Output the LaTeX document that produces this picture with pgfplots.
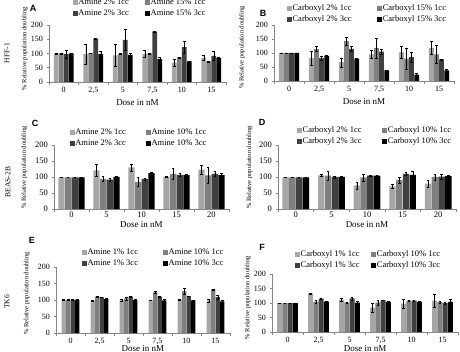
\documentclass[border=0pt]{standalone}
\usepackage{pgfplots}
\pgfplotsset{compat=1.18}
\usepackage{fontspec}
\setmainfont{Liberation Serif}
\newfontfamily\labfont{Liberation Sans}
\definecolor{c1}{HTML}{A6A6A6}
\definecolor{c2}{HTML}{7F7F7F}
\definecolor{c3}{HTML}{404040}
\definecolor{c4}{HTML}{000000}
\definecolor{axgray}{HTML}{868686}
\newcommand\tfont{\fontsize{8}{9}\selectfont}
\newcommand\tbfont{\fontsize{8.5}{9.5}\selectfont}
\newcommand\lfont{\fontsize{8.5}{9.5}\selectfont}
\newcommand\lb[2]{\makebox[#1][l]{#2}}
\pgfplotsset{
  ser/.style n args={2}{fill=#1, draw=none, bar shift=#2,
    legend image code/.code={\fill[fill=#1] (0pt,-2.3pt) rectangle (4.6pt,2.3pt);}},
  panel/.style={
    scale only axis, anchor=south west, ybar, enlargelimits=false,
    ymin=0, ymax=200, ytick={0,50,100,150,200},
    axis lines*=left,
    axis line style={draw=axgray, line width=0.6pt, -},
    tick align=outside, major tick length=2.5pt, minor tick length=3pt,
    every tick/.style={draw=axgray, line width=0.6pt},
    major x tick style={draw=none},
    /pgf/number format/assume math mode=true,
    tick label style={font=\tfont},
    x tick label style={yshift=1pt},
    ylabel={\% Relative population doubling},
    xlabel={Dose in nM},
    legend columns=2, legend cell align=left,
    error bars/y dir=both, error bars/y explicit,
    error bars/error bar style={line width=0.4pt, black},
    error bars/error mark options={rotate=90, mark size=1.3pt, line width=0.4pt, black},
  },
  six/.style={xmin=-0.5, xmax=5.5, xtick={0,1,2,3,4,5}, xticklabels={0,{2,5},5,{7,5},10,15},
    minor xtick={-0.5,0.5,1.5,2.5,3.5,4.5,5.5}},
  five/.style={xmin=-0.5, xmax=4.5, xtick={0,1,2,3,4}, xticklabels={0,5,10,15,20},
    minor xtick={-0.5,0.5,1.5,2.5,3.5,4.5}, tick label style={font=\tbfont},
    x tick label style={yshift=2pt}},
  leg/.style 2 args={legend style={draw=none, fill=none, inner sep=0pt, font=\lfont,
    at={(axis description cs:#1,#2)}, anchor=north west, row sep=2pt,
    nodes={inner sep=0.8pt}}},
  yl/.style 2 args={ylabel style={font=\fontsize{6.5}{7}\selectfont, at={(axis description cs:#1,#2)}, anchor=center}},
  xl/.style 2 args={xlabel style={font=\fontsize{#2}{10}\selectfont, at={(axis description cs:0.5,0)}, anchor=center, yshift=#1}},
}
\begin{document}
\begin{tikzpicture}
\useasboundingbox (0,0) rectangle (460pt,351pt);
% ---------- A ----------
\begin{axis}[panel, six, at={(49pt,269pt)}, width=177pt, height=57pt, bar width=0.16,
  leg={0.135}{1.474}, yl={-0.136}{0.58}, xl={-21pt}{9}]
\addplot[ser={c1}{-0.255}] coordinates {(0,100) +- (0,1.5) (1,98) +- (0,35) (2,93) +- (0,38) (3,98) +- (0,12) (4,68) +- (0,12) (5,85) +- (0,8)};
\addplot[ser={c2}{-0.085}] coordinates {(0,100) +- (0,1) (1,101) +- (0,1) (2,98) +- (0,2) (3,100) +- (0,1) (4,86) +- (0,1) (5,72) +- (0,1)};
\addplot[ser={c3}{0.085}] coordinates {(0,98) +- (0,13) (1,152) +- (0,1) (2,148) +- (0,38) (3,177) +- (0,2) (4,122) +- (0,20) (5,92) +- (0,15)};
\addplot[ser={c4}{0.255}] coordinates {(0,100) +- (0,1) (1,98) +- (0,10) (2,95) +- (0,6) (3,80) +- (0,6) (4,72) +- (0,1) (5,85) +- (0,2)};
\legend{\lb{66pt}{Amine 2\% 1cc}, Amine 15\% 1cc, \lb{66pt}{Amine 2\% 3cc}, Amine 15\% 3cc}
\end{axis}
% ---------- B ----------
\begin{axis}[panel, six, at={(274pt,270pt)}, width=180pt, height=56pt, bar width=0.16,
  leg={0.072}{1.375}, yl={-0.178}{0.6}, xl={-21pt}{9}]
\addplot[ser={c1}{-0.255}] coordinates {(0,100) +- (0,1) (1,83) +- (0,25) (2,67) +- (0,16) (3,95) +- (0,15) (4,102) +- (0,22) (5,118) +- (0,23)};
\addplot[ser={c2}{-0.085}] coordinates {(0,100) +- (0,1) (1,115) +- (0,8) (2,143) +- (0,14) (3,118) +- (0,35) (4,80) +- (0,38) (5,95) +- (0,33)};
\addplot[ser={c3}{0.085}] coordinates {(0,100) +- (0,1) (1,82) +- (0,8) (2,115) +- (0,10) (3,105) +- (0,8) (4,85) +- (0,18) (5,77) +- (0,1)};
\addplot[ser={c4}{0.255}] coordinates {(0,100) +- (0,1) (1,90) +- (0,2) (2,80) +- (0,1) (3,38) +- (0,1) (4,23) +- (0,4) (5,38) +- (0,3)};
\legend{\lb{84pt}{Carboxyl 2\% 1cc}, Carboxyl 15\% 1cc, \lb{84pt}{Carboxyl 2\% 3cc}, Carboxyl 15\% 3cc}
\end{axis}
% ---------- C ----------
\begin{axis}[panel, five, at={(54pt,142pt)}, width=175pt, height=64pt, bar width=0.18,
  leg={0.09}{1.266}, yl={-0.17}{0.65}, xl={-16pt}{9}]
\addplot[ser={c1}{-0.285}] coordinates {(0,99) +- (0,1) (1,121) +- (0,20) (2,130) +- (0,11) (3,101) +- (0,3) (4,123) +- (0,15)};
\addplot[ser={c2}{-0.095}] coordinates {(0,99) +- (0,1) (1,94) +- (0,7) (2,85) +- (0,15) (3,110) +- (0,16) (4,105) +- (0,25)};
\addplot[ser={c3}{0.095}] coordinates {(0,99) +- (0,1) (1,92) +- (0,4) (2,94) +- (0,3) (3,107) +- (0,6) (4,110) +- (0,7)};
\addplot[ser={c4}{0.285}] coordinates {(0,99) +- (0,1) (1,100) +- (0,2) (2,112) +- (0,2) (3,106) +- (0,3) (4,106) +- (0,6)};
\legend{\lb{70pt}{Amine 2\% 1cc}, Amine 10\% 1cc, \lb{70pt}{Amine 2\% 3cc}, Amine 10\% 3cc}
\end{axis}
% ---------- D ----------
\begin{axis}[panel, five, at={(278pt,142pt)}, width=178pt, height=64pt, bar width=0.18,
  leg={0.107}{1.297}, yl={-0.16}{0.65}, xl={-16pt}{9}]
\addplot[ser={c1}{-0.285}] coordinates {(0,99) +- (0,1) (1,105) +- (0,4) (2,74) +- (0,11) (3,71) +- (0,6) (4,79) +- (0,11)};
\addplot[ser={c2}{-0.095}] coordinates {(0,99) +- (0,1) (1,104) +- (0,15) (2,99) +- (0,11) (3,90) +- (0,10) (4,100) +- (0,10)};
\addplot[ser={c3}{0.095}] coordinates {(0,99) +- (0,1) (1,100) +- (0,3) (2,104) +- (0,2) (3,110) +- (0,5) (4,101) +- (0,7)};
\addplot[ser={c4}{0.285}] coordinates {(0,99) +- (0,1) (1,100) +- (0,2) (2,104) +- (0,3) (3,107) +- (0,11) (4,103) +- (0,3)};
\legend{\lb{79pt}{Carboxyl 2\% 1cc}, Carboxyl 10\% 1cc, \lb{79pt}{Carboxyl 2\% 3cc}, Carboxyl 10\% 3cc}
\end{axis}
% ---------- E ----------
\begin{axis}[panel, six, at={(56pt,18pt)}, width=174pt, height=66pt, bar width=0.145,
  leg={0.149}{1.288}, yl={-0.167}{0.6}, xl={-16pt}{9}]
\addplot[ser={c1}{-0.2325}] coordinates {(0,100) +- (0,1) (1,98) +- (0,1) (2,99) +- (0,2) (3,99) +- (0,1) (4,101) +- (0,1) (5,98) +- (0,4)};
\addplot[ser={c2}{-0.0775}] coordinates {(0,100) +- (0,1) (1,110) +- (0,2) (2,105) +- (0,5) (3,123) +- (0,3) (4,127) +- (0,10) (5,132) +- (0,1)};
\addplot[ser={c3}{0.0775}] coordinates {(0,101) +- (0,2) (1,108) +- (0,1) (2,110) +- (0,2) (3,110) +- (0,1) (4,112) +- (0,1) (5,109) +- (0,6)};
\addplot[ser={c4}{0.2325}] coordinates {(0,100) +- (0,1) (1,103) +- (0,1) (2,100) +- (0,1) (3,99) +- (0,3) (4,99) +- (0,1) (5,96) +- (0,3)};
\legend{\lb{75pt}{Amine 1\% 1cc}, Amine 10\% 1cc, \lb{75pt}{Amine 1\% 3cc}, Amine 10\% 3cc}
\end{axis}
% ---------- F ----------
\begin{axis}[panel, six, at={(272pt,19pt)}, width=186pt, height=58pt, bar width=0.16,
  leg={0.124}{1.414}, yl={-0.13}{0.59}, xl={-17pt}{9}]
\addplot[ser={c1}{-0.255}] coordinates {(0,100) +- (0,1) (1,132) +- (0,3) (2,112) +- (0,5) (3,84) +- (0,14) (4,98) +- (0,15) (5,108) +- (0,23)};
\addplot[ser={c2}{-0.085}] coordinates {(0,100) +- (0,1) (1,104) +- (0,5) (2,102) +- (0,2) (3,101) +- (0,8) (4,108) +- (0,1) (5,103) +- (0,3)};
\addplot[ser={c3}{0.085}] coordinates {(0,100) +- (0,1) (1,115) +- (0,2) (2,116) +- (0,5) (3,110) +- (0,1) (4,108) +- (0,1) (5,100) +- (0,3)};
\addplot[ser={c4}{0.255}] coordinates {(0,100) +- (0,1) (1,105) +- (0,1) (2,101) +- (0,5) (3,104) +- (0,1) (4,104) +- (0,2) (5,104) +- (0,9)};
\legend{\lb{70pt}{Carboxyl 1\% 1cc}, Carboxyl 10\% 1cc, \lb{70pt}{Carboxyl 1\% 3cc}, Carboxyl 10\% 3cc}
\end{axis}
% ---------- panel letters and row labels ----------
\node[font=\labfont\bfseries\fontsize{9}{10}\selectfont] at (33pt,343pt) {A};
\node[font=\labfont\bfseries\fontsize{9}{10}\selectfont] at (263pt,338pt) {B};
\node[font=\labfont\bfseries\fontsize{9}{10}\selectfont] at (35pt,228pt) {C};
\node[font=\labfont\bfseries\fontsize{9}{10}\selectfont] at (262pt,229pt) {D};
\node[font=\labfont\bfseries\fontsize{9}{10}\selectfont] at (32pt,111pt) {E};
\node[font=\labfont\bfseries\fontsize{9}{10}\selectfont] at (262pt,104pt) {F};
\node[rotate=90, font=\fontsize{7.5}{8.5}\selectfont] at (7pt,298pt) {HFF-1};
\node[rotate=90, font=\fontsize{7.5}{8.5}\selectfont] at (8pt,169pt) {BEAS-2B};
\node[rotate=90, font=\fontsize{7.5}{8.5}\selectfont] at (7pt,49pt) {TK6};
\end{tikzpicture}
\end{document}
